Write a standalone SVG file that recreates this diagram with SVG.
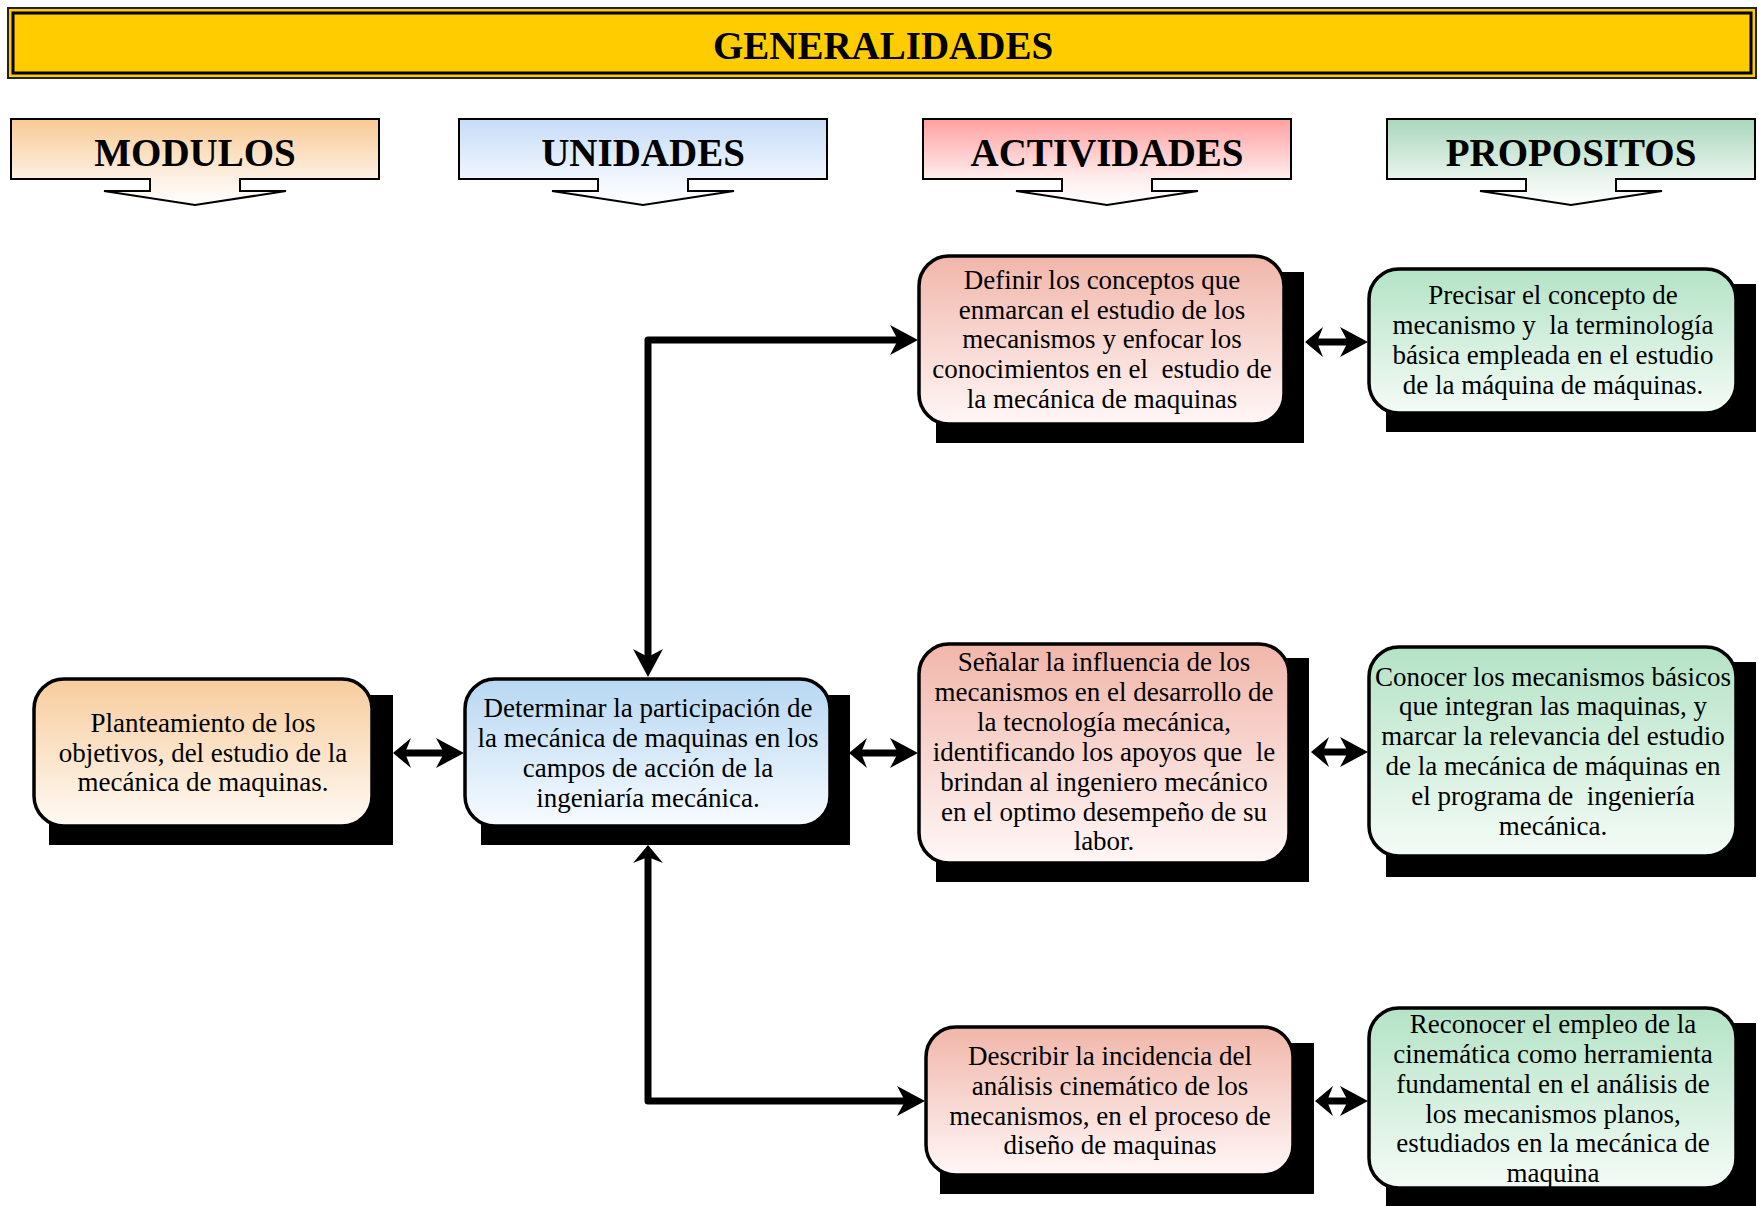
<svg xmlns="http://www.w3.org/2000/svg" width="1758" height="1206" viewBox="0 0 1758 1206">
<style>
.hdr{font-family:"Liberation Serif",serif;font-weight:bold;font-size:39px;text-anchor:middle;fill:#000}
.cat{stroke:#000;stroke-width:2}
.box{stroke:#000;stroke-width:3.5}
.shadow{fill:#000}
.t{font-family:"Liberation Serif",serif;font-size:27px;text-anchor:middle;fill:#000}
.con{fill:none;stroke:#000;stroke-width:7;stroke-linejoin:round}
</style>
<defs>
<linearGradient id="gCatO" x1="0" y1="0" x2="0" y2="1"><stop offset="0" stop-color="#F8C993"/><stop offset="0.7" stop-color="#FDF1E5"/><stop offset="1" stop-color="#FFFFFF"/></linearGradient>
<linearGradient id="gCatB" x1="0" y1="0" x2="0" y2="1"><stop offset="0" stop-color="#C6DCF8"/><stop offset="0.7" stop-color="#F1F6FE"/><stop offset="1" stop-color="#FFFFFF"/></linearGradient>
<linearGradient id="gCatR" x1="0" y1="0" x2="0" y2="1"><stop offset="0" stop-color="#FFA0A0"/><stop offset="0.7" stop-color="#FFEEEE"/><stop offset="1" stop-color="#FFFFFF"/></linearGradient>
<linearGradient id="gCatG" x1="0" y1="0" x2="0" y2="1"><stop offset="0" stop-color="#A9D7BC"/><stop offset="0.7" stop-color="#EAF5EE"/><stop offset="1" stop-color="#FFFFFF"/></linearGradient>
<linearGradient id="gO" x1="0" y1="0" x2="0" y2="1"><stop offset="0" stop-color="#F7CC9D"/><stop offset="1" stop-color="#FFFAF4"/></linearGradient>
<linearGradient id="gB" x1="0" y1="0" x2="0" y2="1"><stop offset="0" stop-color="#B7D7F2"/><stop offset="1" stop-color="#F7FBFF"/></linearGradient>
<linearGradient id="gR" x1="0" y1="0" x2="0" y2="1"><stop offset="0" stop-color="#F1B6AA"/><stop offset="1" stop-color="#FFF7F7"/></linearGradient>
<linearGradient id="gG" x1="0" y1="0" x2="0" y2="1"><stop offset="0" stop-color="#B4E3C6"/><stop offset="1" stop-color="#F4FBF6"/></linearGradient>
<marker id="headL" viewBox="0 0 28 30" refX="10" refY="15" markerWidth="28" markerHeight="30" markerUnits="userSpaceOnUse" orient="auto-start-reverse"><path d="M0,0 L28,15 L0,30 L8,15 Z" fill="#000"/></marker>
<marker id="headS" viewBox="0 0 18 30" refX="7" refY="15" markerWidth="18" markerHeight="30" markerUnits="userSpaceOnUse" orient="auto-start-reverse"><path d="M0,0 L18,15 L0,30 L6,15 Z" fill="#000"/></marker>
</defs>

<g id="title">
<rect x="8" y="8" width="1748" height="70" fill="#FFCC00" stroke="#222" stroke-width="2"/>
<rect x="13" y="13" width="1738" height="60" fill="none" stroke="#000" stroke-width="3"/>
<text class="hdr" x="883" y="59" font-size="38.5">GENERALIDADES</text>
</g>

<g id="cat-modulos">
<path class="cat" fill="url(#gCatO)" d="M11,119 H379 V179 H240 V191 H286 L195,205 L104,191 H150 V179 H11 Z"/>
<text class="hdr" x="195" y="166">MODULOS</text>
</g>
<g id="cat-unidades">
<path class="cat" fill="url(#gCatB)" d="M459,119 H827 V179 H688 V191 H734 L643,205 L552,191 H598 V179 H459 Z"/>
<text class="hdr" x="643" y="166">UNIDADES</text>
</g>
<g id="cat-actividades">
<path class="cat" fill="url(#gCatR)" d="M923,119 H1291 V179 H1152 V191 H1198 L1107,205 L1016,191 H1062 V179 H923 Z"/>
<text class="hdr" x="1107" y="166">ACTIVIDADES</text>
</g>
<g id="cat-propositos">
<path class="cat" fill="url(#gCatG)" d="M1387,119 H1755 V179 H1616 V191 H1662 L1571,205 L1480,191 H1526 V179 H1387 Z"/>
<text class="hdr" x="1571" y="166">PROPOSITOS</text>
</g>

<g id="connectors">
<path class="con" d="M404,753 H446" marker-start="url(#headS)" marker-end="url(#headL)"/>
<path class="con" d="M860,753 H900" marker-start="url(#headS)" marker-end="url(#headL)"/>
<path class="con" d="M1316,342 H1350" marker-start="url(#headS)" marker-end="url(#headL)"/>
<path class="con" d="M1322,752 H1350" marker-start="url(#headS)" marker-end="url(#headL)"/>
<path class="con" d="M1326,1101 H1350" marker-start="url(#headS)" marker-end="url(#headL)"/>
<path class="con" d="M648,659 V340 H900" marker-start="url(#headL)" marker-end="url(#headL)"/>
<path class="con" d="M648,856 V1101 H907" marker-start="url(#headS)" marker-end="url(#headL)"/>
</g>

<g id="node-planteamiento">
<rect class="shadow" x="49" y="695" width="344" height="150"/>
<rect class="box" x="34" y="679" width="338" height="147" rx="30" fill="url(#gO)"/>
<text class="t" xml:space="preserve"><tspan x="203" y="732">Planteamiento de los</tspan><tspan x="203" y="762">objetivos, del estudio de la</tspan><tspan x="203" y="791">mecánica de maquinas.</tspan></text>
</g>

<g id="node-determinar">
<rect class="shadow" x="481" y="695" width="369" height="150"/>
<rect class="box" x="465" y="679" width="365" height="147" rx="30" fill="url(#gB)"/>
<text class="t" xml:space="preserve"><tspan x="648" y="717">Determinar la participación de</tspan><tspan x="648" y="747">la mecánica de maquinas en los</tspan><tspan x="648" y="777">campos de acción de la</tspan><tspan x="648" y="807">ingeniaría mecánica.</tspan></text>
</g>

<g id="node-definir">
<rect class="shadow" x="936" y="272" width="368" height="171"/>
<rect class="box" x="919" y="256" width="365" height="168" rx="30" fill="url(#gR)"/>
<text class="t" xml:space="preserve"><tspan x="1102" y="289">Definir los conceptos que</tspan><tspan x="1102" y="319">enmarcan el estudio de los</tspan><tspan x="1102" y="348">mecanismos y enfocar los</tspan><tspan x="1102" y="378">conocimientos en el  estudio de</tspan><tspan x="1102" y="408">la mecánica de maquinas</tspan></text>
</g>

<g id="node-senalar">
<rect class="shadow" x="936" y="658" width="373" height="224"/>
<rect class="box" x="919" y="644" width="370" height="219" rx="30" fill="url(#gR)"/>
<text class="t" xml:space="preserve"><tspan x="1104" y="671">Señalar la influencia de los</tspan><tspan x="1104" y="701">mecanismos en el desarrollo de</tspan><tspan x="1104" y="731">la tecnología mecánica,</tspan><tspan x="1104" y="761">identificando los apoyos que  le</tspan><tspan x="1104" y="791">brindan al ingeniero mecánico</tspan><tspan x="1104" y="821">en el optimo desempeño de su</tspan><tspan x="1104" y="850">labor.</tspan></text>
</g>

<g id="node-describir">
<rect class="shadow" x="940" y="1043" width="374" height="151"/>
<rect class="box" x="926" y="1027" width="367" height="148" rx="30" fill="url(#gR)"/>
<text class="t" xml:space="preserve"><tspan x="1110" y="1065">Describir la incidencia del</tspan><tspan x="1110" y="1095">análisis cinemático de los</tspan><tspan x="1110" y="1125">mecanismos, en el proceso de</tspan><tspan x="1110" y="1154">diseño de maquinas</tspan></text>
</g>

<g id="node-precisar">
<rect class="shadow" x="1386" y="284" width="370" height="148"/>
<rect class="box" x="1369" y="269" width="367" height="144" rx="30" fill="url(#gG)"/>
<text class="t" xml:space="preserve"><tspan x="1553" y="304">Precisar el concepto de</tspan><tspan x="1553" y="334">mecanismo y  la terminología</tspan><tspan x="1553" y="364">básica empleada en el estudio</tspan><tspan x="1553" y="394">de la máquina de máquinas.</tspan></text>
</g>

<g id="node-conocer">
<rect class="shadow" x="1386" y="662" width="370" height="215"/>
<rect class="box" x="1369" y="647" width="367" height="209" rx="30" fill="url(#gG)"/>
<text class="t" xml:space="preserve"><tspan x="1553" y="686">Conocer los mecanismos básicos</tspan><tspan x="1553" y="715">que integran las maquinas, y</tspan><tspan x="1553" y="745">marcar la relevancia del estudio</tspan><tspan x="1553" y="775">de la mecánica de máquinas en</tspan><tspan x="1553" y="805">el programa de  ingeniería</tspan><tspan x="1553" y="835">mecánica.</tspan></text>
</g>

<g id="node-reconocer">
<rect class="shadow" x="1386" y="1023" width="370" height="183"/>
<rect class="box" x="1369" y="1008" width="367" height="180" rx="30" fill="url(#gG)"/>
<text class="t" xml:space="preserve"><tspan x="1553" y="1033">Reconocer el empleo de la</tspan><tspan x="1553" y="1063">cinemática como herramienta</tspan><tspan x="1553" y="1093">fundamental en el análisis de</tspan><tspan x="1553" y="1123">los mecanismos planos,</tspan><tspan x="1553" y="1152">estudiados en la mecánica de</tspan><tspan x="1553" y="1182">maquina</tspan></text>
</g>
</svg>
